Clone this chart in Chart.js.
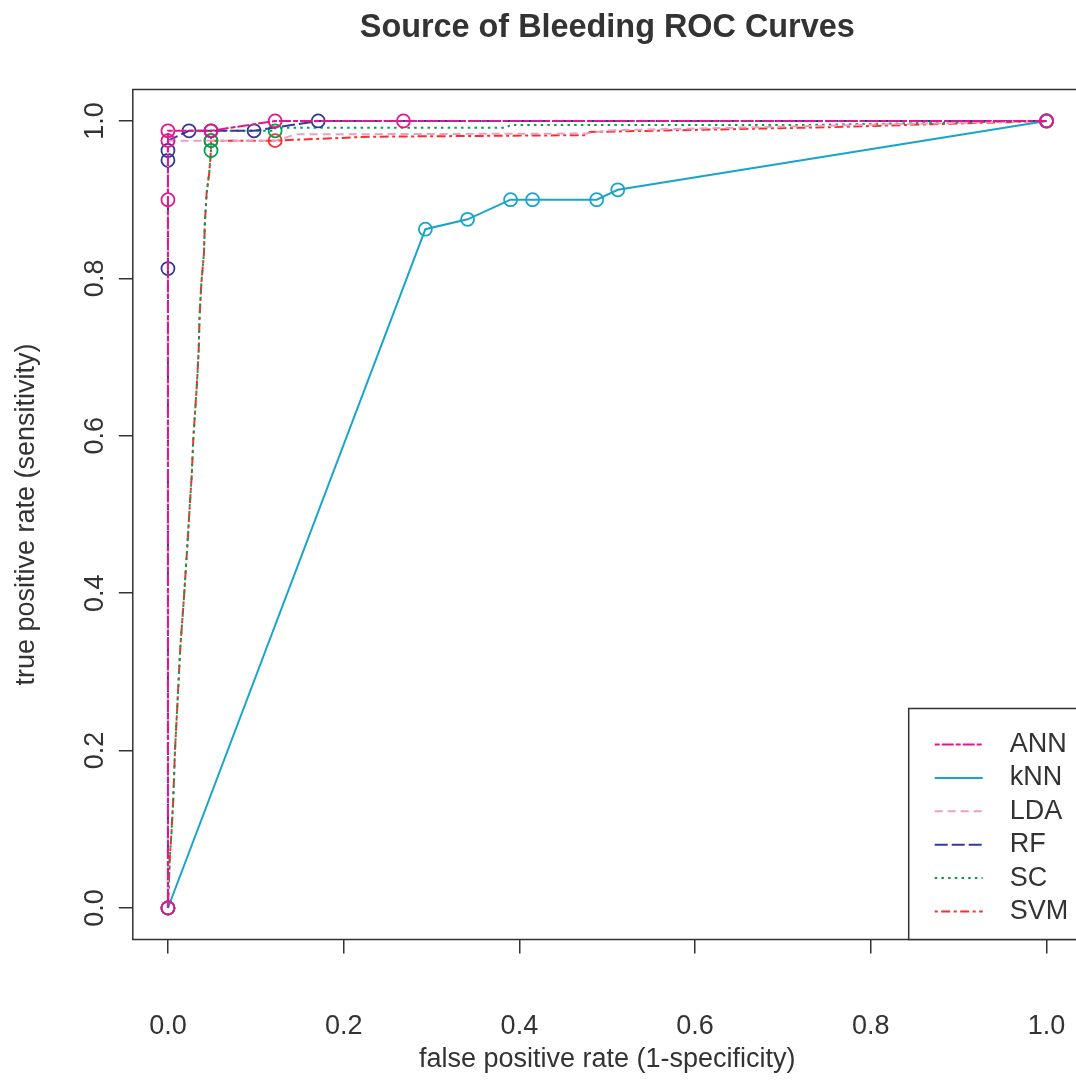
<!DOCTYPE html>
<html>
<head>
<meta charset="utf-8">
<script src="https://cdn.jsdelivr.net/npm/chart.js"></script>
<style>
  body { margin: 0; background: #fff; }
  #wrap { width: 1076px; height: 1081px; overflow: hidden; }
  #roc { width: 1090px; height: 1081px; }
</style>
</head>
<body>
<div id="wrap"><canvas id="roc" width="1090" height="1081"></canvas></div>
<script>
const models = ['ANN', 'kNN', 'LDA', 'RF', 'SC', 'SVM'];

const xTicks = [0, 0.2, 0.4, 0.6, 0.8, 1];
const xTickLabels = ['0.0', '0.2', '0.4', '0.6', '0.8', '1.0'];
const yTicks = [0, 0.2, 0.4, 0.6, 0.8, 1];
const yTickLabels = ['0.0', '0.2', '0.4', '0.6', '0.8', '1.0'];

// ROC curves: false positive rate / true positive rate
const annFpr = [0, 0, 0, 0, 0.049, 0.122, 0.268, 1];
const annTpr = [0, 0.9, 0.975, 0.9875, 0.9875, 1, 1, 1];
const annCutFpr = [0, 0, 0, 0, 0.049, 0.122, 0.268, 1];
const annCutTpr = [0, 0.9, 0.975, 0.9875, 0.9875, 1, 1, 1];

const knnFpr = [0, 0.293, 0.341, 0.390, 0.415, 0.488, 0.512, 1];
const knnTpr = [0, 0.8625, 0.875, 0.9, 0.9, 0.9, 0.9125, 1];
const knnCutFpr = [0, 0.293, 0.341, 0.390, 0.415, 0.488, 0.512, 1];
const knnCutTpr = [0, 0.8625, 0.875, 0.9, 0.9, 0.9, 0.9125, 1];

const ldaFpr = [0, 0, 0.122, 0.146, 0.476, 0.5, 0.75, 1];
const ldaTpr = [0, 0.975, 0.975, 0.983, 0.984, 0.988, 0.994, 1];
const ldaCutFpr = [0, 1];
const ldaCutTpr = [0, 1];

const rfFpr = [0, 0, 0, 0, 0, 0.024, 0.049, 0.098, 0.171, 1];
const rfTpr = [0, 0.8125, 0.95, 0.9625, 0.975, 0.9875, 0.9875, 0.9875, 1, 1];
const rfCutFpr = [0, 0, 0, 0, 0.024, 0.049, 0.098, 0.171, 1];
const rfCutTpr = [0, 0.8125, 0.95, 0.9625, 0.9875, 0.9875, 0.9875, 1, 1];

const scFpr = [0, 0.001, 0.002, 0.004, 0.006, 0.008, 0.011, 0.014, 0.018, 0.022, 0.025, 0.027,
  0.029, 0.031, 0.033, 0.035, 0.036, 0.038, 0.041, 0.042, 0.044, 0.047, 0.049, 0.049, 0.049,
  0.122, 0.122, 0.385, 0.39, 0.73, 1];
const scTpr = [0, 0.03, 0.061, 0.095, 0.137, 0.2, 0.264, 0.33, 0.391, 0.459, 0.514, 0.548,
  0.599, 0.632, 0.666, 0.709, 0.752, 0.794, 0.832, 0.87, 0.908, 0.934, 0.9625, 0.975, 0.9875,
  0.9875, 0.9915, 0.9915, 0.995, 0.995, 1];
const scCutFpr = [0, 0.049, 0.049, 0.122, 1];
const scCutTpr = [0, 0.9625, 0.975, 0.9875, 1];

const svmFpr = [0, 0.001, 0.002, 0.004, 0.006, 0.008, 0.011, 0.014, 0.018, 0.022, 0.025, 0.027,
  0.029, 0.031, 0.033, 0.035, 0.036, 0.038, 0.041, 0.042, 0.044, 0.047, 0.049, 0.049,
  0.122, 0.23, 0.476, 0.48, 0.75, 1];
const svmTpr = [0, 0.03, 0.061, 0.095, 0.137, 0.2, 0.264, 0.33, 0.391, 0.459, 0.514, 0.548,
  0.599, 0.632, 0.666, 0.709, 0.752, 0.794, 0.832, 0.87, 0.908, 0.934, 0.9625, 0.975,
  0.975, 0.98, 0.982, 0.986, 0.992, 1];
const svmCutFpr = [0, 0.049, 0.122, 1];
const svmCutTpr = [0, 0.975, 0.975, 1];

const colors = ['#e5168b', '#18a5cb', '#e9a0c3', '#35389a', '#00a14f', '#ff2b2b'];
const dashes = [[5, 2, 12, 2], [], [8, 5], [13, 4], [2.5, 4.2], [3, 3.5, 9, 3.5]];

const lineX = [annFpr, knnFpr, ldaFpr, rfFpr, scFpr, svmFpr];
const lineY = [annTpr, knnTpr, ldaTpr, rfTpr, scTpr, svmTpr];
const cutX = [annCutFpr, knnCutFpr, ldaCutFpr, rfCutFpr, scCutFpr, svmCutFpr];
const cutY = [annCutTpr, knnCutTpr, ldaCutTpr, rfCutTpr, scCutTpr, svmCutTpr];

const zip = (xs, ys) => xs.map((x, i) => ({ x: x, y: ys[i] }));

const datasets = [];
models.forEach((m, i) => {
  datasets.push({
    label: m,
    data: zip(lineX[i], lineY[i]),
    showLine: true,
    borderColor: colors[i],
    borderWidth: 2,
    borderDash: dashes[i],
    pointRadius: 0,
    tension: 0,
  });
  datasets.push({
    label: m + ' cutoffs',
    data: zip(cutX[i], cutY[i]),
    showLine: false,
    borderColor: colors[i],
    backgroundColor: 'rgba(0,0,0,0)',
    borderWidth: 1.8,
    pointRadius: 6.5,
  });
});

const ink = '#333333';
const font = 'Liberation Sans, Arial, Helvetica, sans-serif';

const frameAndText = {
  id: 'frameAndText',
  afterDraw(chart) {
    const { ctx, chartArea: a } = chart;
    const yScale = chart.scales.y;
    ctx.save();
    ctx.strokeStyle = ink;
    ctx.lineWidth = 1.5;
    ctx.setLineDash([]);
    ctx.strokeRect(a.left, a.top, a.right - a.left, a.bottom - a.top);

    // rotated y tick labels
    ctx.fillStyle = ink;
    ctx.font = '27px ' + font;
    ctx.textAlign = 'center';
    ctx.textBaseline = 'middle';
    yTicks.forEach((v, i) => {
      ctx.save();
      ctx.translate(a.left - 37, yScale.getPixelForValue(v));
      ctx.rotate(-Math.PI / 2);
      ctx.fillText(yTickLabels[i], 0, 0);
      ctx.restore();
    });

    // legend
    const bx = a.right - 173, by = a.bottom - 231;
    ctx.fillStyle = '#fff';
    ctx.fillRect(bx, by, 300, a.bottom - by);
    ctx.strokeRect(bx, by, 300, a.bottom - by);
    ctx.font = '27px ' + font;
    ctx.textAlign = 'left';
    models.forEach((m, i) => {
      const ds = chart.data.datasets[i * 2];
      const ly = by + 36 + i * 33.4;
      ctx.strokeStyle = ds.borderColor;
      ctx.lineWidth = 2;
      ctx.setLineDash(ds.borderDash);
      ctx.beginPath();
      ctx.moveTo(bx + 26, ly);
      ctx.lineTo(bx + 74, ly);
      ctx.stroke();
      ctx.fillStyle = ink;
      ctx.fillText(m, bx + 101, ly);
    });
    ctx.restore();
  }
};

new Chart(document.getElementById('roc'), {
  type: 'scatter',
  data: { datasets: datasets },
  plugins: [frameAndText],
  options: {
    responsive: false,
    animation: false,
    layout: { padding: 0 },
    plugins: {
      legend: { display: false },
      tooltip: { enabled: false },
      title: {
        display: true,
        text: 'Source of Bleeding ROC Curves',
        fullSize: false,
        color: ink,
        font: { family: font, size: 32.4, weight: 'bold' },
        padding: { top: 9, bottom: 41.6 },
      },
    },
    scales: {
      x: {
        type: 'linear',
        min: -0.04,
        max: 1.04,
        afterBuildTicks: (s) => { s.ticks = xTicks.map((v) => ({ value: v })); },
        afterFit: (s) => { s.height = 141.5; s.paddingLeft = 0; s.paddingRight = 0; },
        ticks: {
          color: ink,
          font: { family: font, size: 27 },
          padding: 57,
          maxRotation: 0,
          callback: (v, i) => xTickLabels[i],
        },
        grid: { drawOnChartArea: false, drawTicks: true, tickLength: 14, color: ink, lineWidth: 1.5 },
        border: { display: false },
        title: {
          display: true,
          text: 'false positive rate (1-specificity)',
          color: ink,
          font: { family: font, size: 27 },
          padding: { top: 0, bottom: 5 },
        },
      },
      y: {
        type: 'linear',
        min: -0.04,
        max: 1.04,
        afterBuildTicks: (s) => { s.ticks = yTicks.map((v) => ({ value: v })); },
        afterFit: (s) => { s.width = 132.8; },
        ticks: { display: false },
        grid: { drawOnChartArea: false, drawTicks: true, tickLength: 14, color: ink, lineWidth: 1.5 },
        border: { display: false },
        title: {
          display: true,
          text: 'true positive rate (sensitivity)',
          color: ink,
          font: { family: font, size: 27 },
          padding: { top: 10, bottom: 0 },
        },
      },
    },
  },
});
</script>
</body>
</html>
